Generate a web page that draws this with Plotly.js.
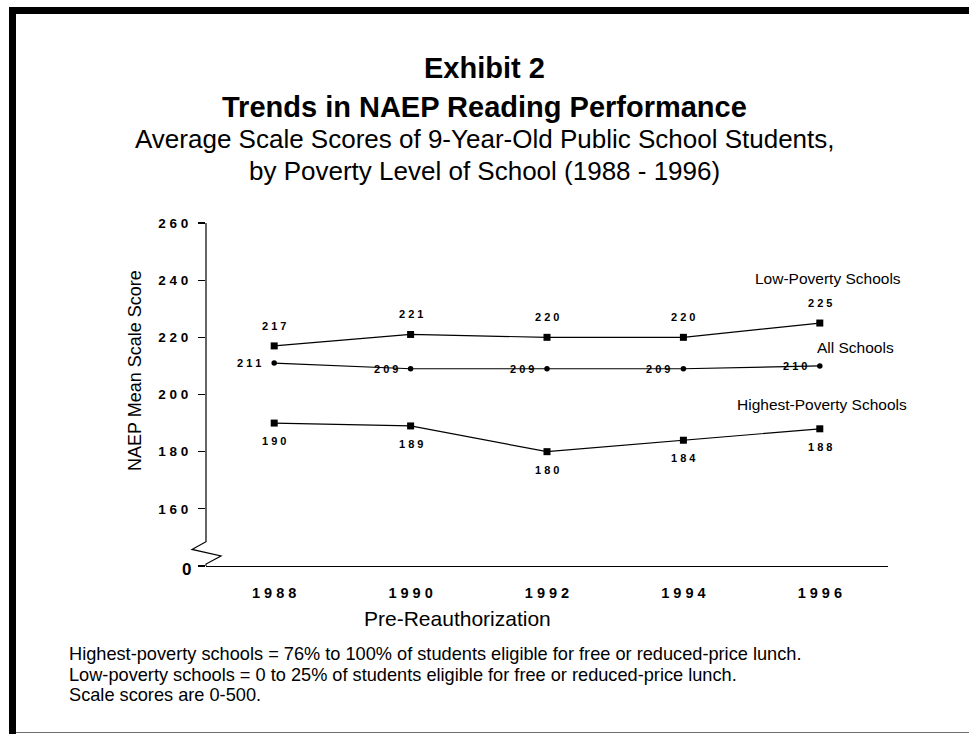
<!DOCTYPE html>
<html>
<head>
<meta charset="utf-8">
<script src="https://cdn.plot.ly/plotly-3.0.1.min.js"></script>
<style>
  html, body { margin: 0; padding: 0; background: #ffffff; }
  #chart { width: 969px; height: 734px; }
</style>
</head>
<body>
<div id="chart"></div>
<script>
// NAEP reading trends, 9-year-olds in public schools, by school poverty level
const years = ['1988', '1990', '1992', '1994', '1996'];
const lowPoverty = [217, 221, 220, 220, 225];
const allSchools = [211, 209, 209, 209, 210];
const highestPoverty = [190, 189, 180, 184, 188];

const yTickVals = [140, 160, 180, 200, 220, 240, 260];
const yBreakLabel = '0';

const seriesNames = ['Low-Poverty Schools', 'All Schools', 'Highest-Poverty Schools'];

const titleLines = ['Exhibit 2', 'Trends in NAEP Reading Performance'];
const subtitleLines = [
  'Average Scale Scores of 9-Year-Old Public School Students,',
  'by Poverty Level of School (1988 - 1996)'
];
const yAxisTitle = 'NAEP Mean Scale Score';
const xAxisNote = 'Pre-Reauthorization';
const footnotes = [
  'Highest-poverty schools = 76% to 100% of students eligible for free or reduced-price lunch.',
  'Low-poverty schools = 0 to 25% of students eligible for free or reduced-price lunch.',
  'Scale scores are 0-500.'
];

// ---- geometry helpers (pixel -> paper fraction) ----
const W = 969, H = 734;
const M = { l: 206, r: 81, t: 223, b: 168 };
const PW = W - M.l - M.r;
const PH = H - M.t - M.b;
const px2x = px => (px - M.l) / PW;
const py2y = py => (H - M.b - py) / PH;

const FONT = 'Liberation Sans, Arial, Helvetica, sans-serif';
// spread digits apart the way the axis and point labels are set
const spaced = v => String(v).split('').join(' ');
const bold = s => '<b>' + s + '</b>';

const lineStyle = { color: '#000000', width: 1.2 };

const traces = [
  {
    x: years, y: lowPoverty, name: seriesNames[0], type: 'scatter', mode: 'lines+markers',
    line: lineStyle, marker: { symbol: 'square', size: 7, color: '#000000' }, cliponaxis: false
  },
  {
    x: years, y: allSchools, name: seriesNames[1], type: 'scatter', mode: 'lines+markers',
    line: lineStyle, marker: { symbol: 'circle', size: 5.5, color: '#000000' }, cliponaxis: false
  },
  {
    x: years, y: highestPoverty, name: seriesNames[2], type: 'scatter', mode: 'lines+markers',
    line: lineStyle, marker: { symbol: 'square', size: 7, color: '#000000' }, cliponaxis: false
  }
];

const labelFont = { family: FONT, size: 11, color: '#000000' };
const annotations = [];

// value labels: above the low-poverty line, left of the all-schools line, below the highest-poverty line
// (annotations on a category axis are placed by category index)
years.forEach((yr, i) => {
  annotations.push({ x: i, y: lowPoverty[i], xref: 'x', yref: 'y', text: bold(spaced(lowPoverty[i])),
    showarrow: false, font: labelFont, xanchor: 'center', yanchor: 'middle', yshift: 20 });
  annotations.push({ x: i, y: allSchools[i], xref: 'x', yref: 'y', text: bold(spaced(allSchools[i])),
    showarrow: false, font: labelFont, xanchor: 'right', yanchor: 'middle', xshift: -11 });
  annotations.push({ x: i, y: highestPoverty[i], xref: 'x', yref: 'y', text: bold(spaced(highestPoverty[i])),
    showarrow: false, font: labelFont, xanchor: 'center', yanchor: 'middle', yshift: -18 });
});

// series names next to the last point of each line
const nameFont = { family: FONT, size: 15.5, color: '#000000' };
const last = years.length - 1;
annotations.push({ x: last, y: 240.5, xref: 'x', yref: 'y', text: seriesNames[0], showarrow: false,
  font: nameFont, xanchor: 'center', yanchor: 'middle', xshift: 8 });
annotations.push({ x: last, y: 216.3, xref: 'x', yref: 'y', text: seriesNames[1], showarrow: false,
  font: nameFont, xanchor: 'center', yanchor: 'middle', xshift: 36 });
annotations.push({ x: last, y: 196.4, xref: 'x', yref: 'y', text: seriesNames[2], showarrow: false,
  font: nameFont, xanchor: 'center', yanchor: 'middle', xshift: 2 });

// broken-axis "0" label at the foot of the value axis
annotations.push({ x: 0, y: yTickVals[0], xref: 'paper', yref: 'y', text: bold(yBreakLabel), showarrow: false,
  font: { family: FONT, size: 17, color: '#000000' },
  xanchor: 'right', yanchor: 'middle', xshift: -13, yshift: -3 });

// titles
const centerX = px2x(484.5);
annotations.push({ x: centerX, y: py2y(67.5), xref: 'paper', yref: 'paper', text: bold(titleLines[0]), showarrow: false,
  font: { family: FONT, size: 29, color: '#000000' }, xanchor: 'center', yanchor: 'middle' });
annotations.push({ x: centerX, y: py2y(107.5), xref: 'paper', yref: 'paper', text: bold(titleLines[1]), showarrow: false,
  font: { family: FONT, size: 29, color: '#000000' }, xanchor: 'center', yanchor: 'middle' });
annotations.push({ x: centerX, y: py2y(139), xref: 'paper', yref: 'paper', text: subtitleLines[0], showarrow: false,
  font: { family: FONT, size: 26, color: '#000000' }, xanchor: 'center', yanchor: 'middle' });
annotations.push({ x: centerX, y: py2y(171), xref: 'paper', yref: 'paper', text: subtitleLines[1], showarrow: false,
  font: { family: FONT, size: 26, color: '#000000' }, xanchor: 'center', yanchor: 'middle' });

// value-axis title
annotations.push({ x: px2x(135), y: py2y(371), xref: 'paper', yref: 'paper', text: yAxisTitle, showarrow: false,
  textangle: -90, font: { family: FONT, size: 18, color: '#000000' }, xanchor: 'center', yanchor: 'middle' });

// period note under the year axis
annotations.push({ x: px2x(457), y: py2y(618), xref: 'paper', yref: 'paper', text: xAxisNote, showarrow: false,
  font: { family: FONT, size: 21, color: '#000000' }, xanchor: 'center', yanchor: 'middle' });

// footnotes
const footBase = [654, 674.5, 694.5];
footnotes.forEach((t, i) => {
  annotations.push({ x: px2x(67), y: py2y(footBase[i]), xref: 'paper', yref: 'paper', text: t, showarrow: false,
    font: { family: FONT, size: 18.2, color: '#000000' }, xanchor: 'left', yanchor: 'middle' });
});

const shapes = [
  // value axis with a zigzag break just above the baseline
  { type: 'path', xref: 'paper', yref: 'y', xsizemode: 'pixel', xanchor: 0,
    path: 'M0,260 L0,148.5 L-14,145.8 L15,143.5 L0,140.7 L0,140',
    line: { color: '#000000', width: 1.2 }, layer: 'above' },
  // frame: heavy top and left rules, thin grey bottom rule
  { type: 'rect', xref: 'paper', yref: 'paper', x0: px2x(9), x1: px2x(972), y0: py2y(14), y1: py2y(7),
    fillcolor: '#000000', line: { width: 0 } },
  { type: 'rect', xref: 'paper', yref: 'paper', x0: px2x(9), x1: px2x(16), y0: py2y(737), y1: py2y(7),
    fillcolor: '#000000', line: { width: 0 } },
  { type: 'line', xref: 'paper', yref: 'paper', x0: px2x(16), x1: px2x(972), y0: py2y(732.5), y1: py2y(732.5),
    line: { color: '#6e6e6e', width: 1.2 } }
];

const layout = {
  width: W, height: H,
  margin: M,
  paper_bgcolor: '#ffffff',
  plot_bgcolor: '#ffffff',
  showlegend: false,
  font: { family: FONT, color: '#000000' },
  xaxis: {
    type: 'category',
    range: [-0.5, years.length - 0.5],
    tickvals: years,
    ticktext: years.map(y => bold(spaced(y))),
    tickfont: { family: FONT, size: 14.5, color: '#000000' },
    ticks: '',
    ticklabelstandoff: 13,
    showline: true, linecolor: '#000000', linewidth: 1.2,
    showgrid: false, zeroline: false, fixedrange: true
  },
  yaxis: {
    range: [yTickVals[0], yTickVals[yTickVals.length - 1]],
    tickvals: yTickVals,
    ticktext: yTickVals.map((v, i) => (i === 0 ? '' : bold(spaced(v)))),
    tickfont: { family: FONT, size: 13.5, color: '#000000' },
    ticks: 'outside', ticklen: 7, tickwidth: 1.2, tickcolor: '#000000',
    ticklabelstandoff: 7,
    showline: false, showgrid: false, zeroline: false, fixedrange: true
  },
  annotations: annotations,
  shapes: shapes
};

Plotly.newPlot('chart', traces, layout, { displayModeBar: false, staticPlot: true });
</script>
</body>
</html>
